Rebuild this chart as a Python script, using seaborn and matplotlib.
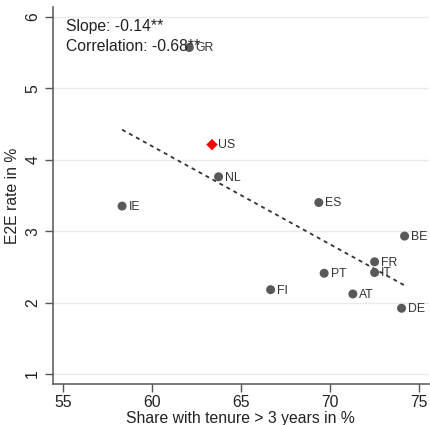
import numpy as np
import pandas as pd
import matplotlib
matplotlib.use("Agg")
import matplotlib.pyplot as plt
import seaborn as sns

# Country data: share of workers with tenure > 3 years (%) and E2E rate (%)
countries = ["GR", "US", "NL", "IE", "ES", "BE", "FR", "IT", "PT", "FI", "AT", "DE"]
tenure_share = [62.10, 63.37, 63.74, 58.33, 69.36, 74.17, 72.49, 72.49, 69.66, 66.66, 71.27, 74.00]
e2e_rate = [5.57, 4.21, 3.76, 3.35, 3.40, 2.93, 2.57, 2.42, 2.41, 2.18, 2.12, 1.92]
slope_text = "Slope: -0.14**"
corr_text = "Correlation: -0.68**"
highlight = "US"

df = pd.DataFrame({"country": countries, "tenure": tenure_share, "e2e": e2e_rate})
is_us = df["country"] == highlight

sns.set_style("white")
plt.rcParams["font.family"] = ["Liberation Sans", "DejaVu Sans"]

fig = plt.figure(figsize=(4.3, 4.25), dpi=100)
ax = fig.add_axes([0.1226, 0.0965, 0.8751, 0.887])

# horizontal grid lines
ax.set_axisbelow(True)
ax.yaxis.grid(True, color="#eaeaea", linewidth=1.0)
ax.xaxis.grid(False)

# OLS fit over the full sample
sns.regplot(data=df, x="tenure", y="e2e", scatter=False, ci=None, truncate=True,
            line_kws=dict(color="#333333", linewidth=1.3, linestyle=(0, (2.2, 2.2))), ax=ax)

sns.scatterplot(data=df[~is_us], x="tenure", y="e2e", color="#595959", s=42,
                edgecolor="none", ax=ax, zorder=3)
sns.scatterplot(data=df[is_us], x="tenure", y="e2e", color="#ff0000", marker="D", s=34,
                edgecolor="none", ax=ax, zorder=3)

for c, xv, yv in zip(countries, tenure_share, e2e_rate):
    ax.annotate(c, (xv, yv), xytext=(4.6, -0.6), textcoords="offset points",
                ha="left", va="center", fontsize=8.8, color="#333333", zorder=4)

ax.text(55.2, 5.87, slope_text, fontsize=11.3, color="#222222", va="center", ha="left")
ax.text(55.2, 5.58, corr_text, fontsize=11.3, color="#222222", va="center", ha="left")

ax.set_xlim(54.44, 75.54)
ax.set_ylim(0.86, 6.136)
ax.set_xticks([55, 60, 65, 70, 75])
ax.set_yticks([1, 2, 3, 4, 5, 6])

ax.set_xlabel("Share with tenure > 3 years in %", fontsize=11.3, color="#222222", labelpad=1)
ax.set_ylabel("E2E rate in %", fontsize=11.3, color="#222222", labelpad=4)

for side in ["top", "right"]:
    ax.spines[side].set_visible(False)
for side in ["left", "bottom"]:
    ax.spines[side].set_color("#555555")
    ax.spines[side].set_linewidth(1.1)

ax.tick_params(axis="both", which="major", direction="out", length=6, width=1.0,
               color="#555555", labelsize=11.3, labelcolor="#222222",
               left=True, bottom=True)
ax.tick_params(axis="x", pad=2)
ax.tick_params(axis="y", pad=3)
for lab in ax.get_yticklabels():
    lab.set_rotation(90)
    lab.set_va("center")

fig.savefig("out.png", dpi=100)
